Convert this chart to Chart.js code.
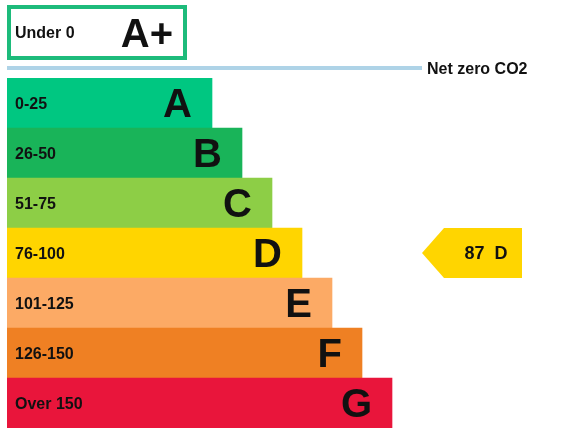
<!DOCTYPE html>
<html>
<head>
<meta charset="utf-8">
<title>Energy rating</title>
<script src="https://cdn.jsdelivr.net/npm/chart.js@4.4.1/dist/chart.umd.min.js"></script>
<style>
  html, body { margin: 0; padding: 0; background: #fff; }
  #wrap { width: 583px; height: 432px; position: relative; }
</style>
</head>
<body>
<div id="wrap"><canvas id="ratingChart"></canvas></div>
<script>
// Bands, score ranges and bar lengths (x scale units = px)
const bands = ['A', 'B', 'C', 'D', 'E', 'F', 'G'];
const ranges = ['0-25', '26-50', '51-75', '76-100', '101-125', '126-150', 'Over 150'];
const barLengths = [205, 235, 265, 295, 325, 355, 385];
const bandColours = ['#00c781', '#19b459', '#8dce46', '#ffd500', '#fcaa65', '#ef8023', '#e9153b'];

// Top "A+" band, drawn as an outlined box
const topBand = 'A+';
const topRange = 'Under 0';
const topLength = 180;

// Net zero line and current rating
const netZeroLabel = 'Net zero CO2';
const indicatorAt = 415;
const currentScore = 87;
const currentBand = 'D';

const FONT = "'Liberation Sans', Arial, sans-serif";

function capText(ctx, text, x, cy, size, align) {
  ctx.font = `bold ${size}px ${FONT}`;
  ctx.textAlign = align;
  ctx.textBaseline = 'alphabetic';
  ctx.fillText(text, x, cy + size * 0.716 / 2);
}

const labelsPlugin = {
  id: 'ratingLabels',
  afterDatasetsDraw(chart) {
    const ctx = chart.ctx;
    const x = chart.scales.x;
    const area = chart.chartArea;
    const bars = chart.getDatasetMeta(0).data;
    ctx.save();
    ctx.fillStyle = '#111';

    // Band labels
    bars.forEach((bar, i) => {
      capText(ctx, ranges[i], area.left + 8, bar.y, 16, 'left');
      capText(ctx, bands[i], bar.x - 20, bar.y, 40, 'right');
    });

    // A+ box
    const boxRight = x.getPixelForValue(topLength);
    const boxTop = 5, boxBottom = 60;
    ctx.strokeStyle = '#1dbb7b';
    ctx.lineWidth = 4;
    ctx.strokeRect(area.left + 2, boxTop + 2, boxRight - area.left - 4, boxBottom - boxTop - 4);
    const boxMid = (boxTop + boxBottom) / 2;
    capText(ctx, topRange, area.left + 8, boxMid, 16, 'left');
    capText(ctx, topBand, boxRight - 14, boxMid, 40, 'right');

    // Net zero line
    const lineEnd = x.getPixelForValue(indicatorAt);
    ctx.strokeStyle = '#aed3e7';
    ctx.lineWidth = 4;
    ctx.beginPath();
    ctx.moveTo(area.left, 68);
    ctx.lineTo(lineEnd, 68);
    ctx.stroke();
    capText(ctx, netZeroLabel, lineEnd + 5, 68, 16, 'left');

    // Current rating arrow
    const idx = bands.indexOf(currentBand);
    const bar = bars[idx];
    const top = bar.y - bar.height / 2;
    const bottom = bar.y + bar.height / 2;
    const tip = x.getPixelForValue(indicatorAt);
    const right = x.getPixelForValue(indicatorAt + 100);
    ctx.fillStyle = bandColours[idx];
    ctx.beginPath();
    ctx.moveTo(tip, bar.y);
    ctx.lineTo(tip + 22, top);
    ctx.lineTo(right, top);
    ctx.lineTo(right, bottom);
    ctx.lineTo(tip + 22, bottom);
    ctx.closePath();
    ctx.fill();
    ctx.fillStyle = '#111';
    capText(ctx, `${currentScore}  ${currentBand}`, (tip + 22 + right) / 2 + 3, bar.y, 18, 'center');

    ctx.restore();
  }
};

new Chart(document.getElementById('ratingChart'), {
  type: 'bar',
  data: {
    labels: bands,
    datasets: [{
      data: barLengths,
      backgroundColor: bandColours,
      borderWidth: 0,
      barPercentage: 1,
      categoryPercentage: 1
    }]
  },
  options: {
    indexAxis: 'y',
    responsive: true,
    maintainAspectRatio: false,
    animation: false,
    layout: { padding: { left: 7, right: 0, top: 78, bottom: 4 } },
    plugins: {
      legend: { display: false },
      tooltip: { enabled: false }
    },
    scales: {
      x: { display: false, min: 0, max: 576 },
      y: { display: false }
    }
  },
  plugins: [labelsPlugin]
});
</script>
</body>
</html>
